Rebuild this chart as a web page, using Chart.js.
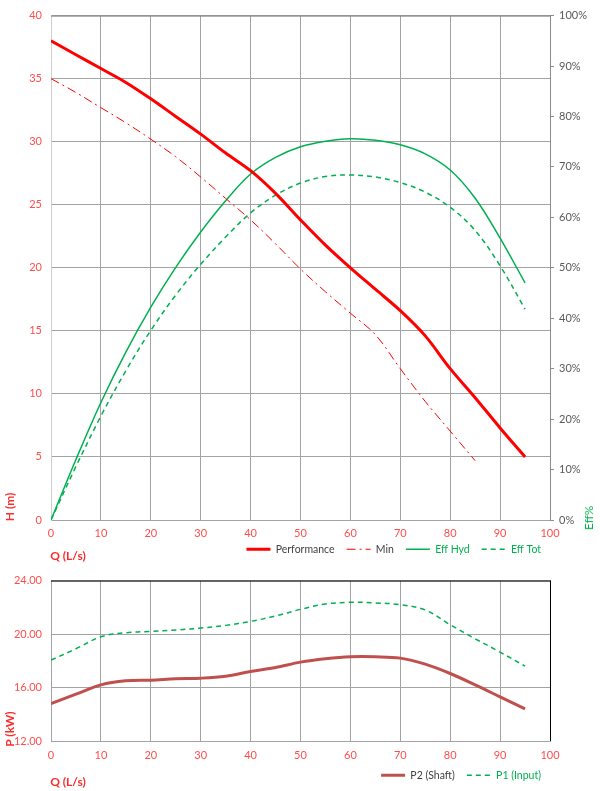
<!DOCTYPE html>
<html>
<head>
<meta charset="utf-8">
<script src="https://cdn.jsdelivr.net/npm/chart.js"></script>
<style>
  body { margin: 0; background: #fff; }
  #wrap { position: relative; width: 600px; height: 791px; font-family: Lato, "Open Sans", sans-serif; }
  canvas { position: absolute; left: 0; }
  .ttl { position: absolute; white-space: nowrap; font-size: 12px; line-height: 1; transform: translate(-50%, -50%); }
  .red { color: #ff2b2b; font-weight: bold; }
  .green { color: #00b050; }
  .rot { transform: translate(-50%, -50%) rotate(-90deg); }
</style>
</head>
<body>
<div id="wrap">
  <canvas id="headChart" width="600" height="565" style="top:0"></canvas>
  <canvas id="powerChart" width="600" height="226" style="top:565px"></canvas>
  <div class="ttl red rot" style="left:10px; top:507px">H (m)</div>
  <div class="ttl green rot" style="left:589px; top:518px">Eff%</div>
  <div class="ttl red" style="left:68px; top:556px">Q (L/s)</div>
  <div class="ttl red rot" style="left:10px; top:729px">P (kW)</div>
  <div class="ttl red" style="left:68px; top:782px">Q (L/s)</div>
</div>
<script>
// flow points (L/s)
const flow = [0, 5, 10, 15, 20, 25, 30, 35, 40, 45, 50, 55, 60, 65, 70, 75, 80, 85, 90, 95];

// head curves (m)
const headPerf = [38, 36.9, 35.8, 34.7, 33.4, 32.0, 30.6, 29.1, 27.7, 25.9, 23.8, 21.8, 20.0, 18.3, 16.6, 14.6, 12.0, 9.7, 7.3, 5.0];
const headMin  = [35, 33.9, 32.7, 31.5, 30.2, 28.8, 27.2, 25.5, 23.8, 21.9, 19.9, 18.1, 16.4, 14.7, 12.0, 9.4, 7.05, 4.7, null, null];

// efficiency (%)
const effHyd = [0, 12.0, 23.3, 33.3, 42.2, 50.1, 57.1, 63.3, 68.6, 71.9, 74.0, 75.1, 75.6, 75.3, 74.4, 72.6, 69.4, 63.8, 55.9, 47.0];
const effTot = [0, 10.6, 20.6, 29.6, 37.6, 44.6, 50.7, 56.1, 60.9, 64.4, 66.8, 68.1, 68.4, 68.0, 66.9, 65.0, 62.0, 57.4, 50.4, 41.8];

// power (kW)
const powerShaft = [14.8, 15.5, 16.2, 16.5, 16.55, 16.65, 16.7, 16.85, 17.2, 17.5, 17.9, 18.15, 18.3, 18.3, 18.2, 17.75, 17.05, 16.2, 15.3, 14.4];
const powerInput = [18.05, 18.9, 19.8, 20.1, 20.2, 20.3, 20.45, 20.65, 20.95, 21.35, 21.85, 22.25, 22.38, 22.33, 22.2, 21.8, 20.7, 19.65, 18.65, 17.6];

const qTicks = [0, 10, 20, 30, 40, 50, 60, 70, 80, 90, 100];

const RED = "#ff0000";
const GREEN = "#00b050";
const TICK_RED = "#ff4d4d";
const GRID = "#a3a3a3";
const FONT = { family: "Lato, 'Open Sans', sans-serif", size: 11 };
const LEGEND_FONT = { family: "Lato, 'Open Sans', sans-serif", size: 10.5 };

const pts = (vals) => flow.map((q, i) => ({ x: q, y: vals[i] })).filter(p => p.y !== null);

// extra frame lines drawn over the plot edge
const frameLines = {
  id: "frameLines",
  afterDatasetsDraw(chart, args, opts) {
    const { ctx, chartArea: a } = chart;
    ctx.save();
    ctx.lineWidth = 1;
    ctx.strokeStyle = opts.color;
    ctx.beginPath();
    ctx.moveTo(a.left, a.top + 0.5);
    ctx.lineTo(a.right + 1, a.top + 0.5);
    if (opts.right) {
      ctx.moveTo(a.right + 0.5, a.top);
      ctx.lineTo(a.right + 0.5, a.bottom);
    }
    ctx.stroke();
    ctx.restore();
  }
};

// the legend sits on the same band as the axis title, so move it up after layout
const legendNudge = {
  id: "legendNudge",
  afterLayout(chart, args, opts) {
    const lg = chart.legend;
    if (!lg) return;
    lg.top = opts.top;
    lg.bottom = opts.top + 35;
    lg.left += opts.dx;
    lg.right += opts.dx;
  }
};

function legendOpts(textColors) {
  return {
    position: "bottom",
    align: "end",
    fullSize: false,
    maxHeight: 20,
    labels: {
      usePointStyle: true,
      pointStyle: "line",
      pointStyleWidth: 24,
      padding: 12,
      font: LEGEND_FONT,
      color: "#404040",
      generateLabels(chart) {
        return chart.data.datasets.map((ds, i) => ({
          text: ds.label,
          datasetIndex: i,
          fontColor: textColors[i],
          strokeStyle: ds.borderColor,
          fillStyle: ds.borderColor,
          lineWidth: ds.borderWidth,
          lineDash: ds.borderDash || [],
          lineCap: "butt",
          pointStyle: "line",
          hidden: false
        }));
      }
    }
  };
}

function qAxis(pad, height) {
  return {
    type: "linear",
    min: 0,
    max: 100,
    afterBuildTicks: (s) => { s.ticks = qTicks.map(v => ({ value: v })); },
    ticks: { color: TICK_RED, font: FONT, padding: pad, maxRotation: 0 },
    grid: { color: GRID, drawTicks: false },
    border: { color: GRID },
    afterFit: (s) => { s.height = height; }
  };
}

const lineDefaults = { pointRadius: 0, pointHoverRadius: 0, tension: 0.35, fill: false };

new Chart(document.getElementById("headChart"), {
  type: "line",
  data: {
    datasets: [
      { ...lineDefaults, label: "Performance", data: pts(headPerf), borderColor: RED, borderWidth: 3, yAxisID: "y" },
      { ...lineDefaults, label: "Min", data: pts(headMin), borderColor: RED, borderWidth: 1, borderDash: [9, 4, 2, 4], yAxisID: "y" },
      { ...lineDefaults, label: "Eff Hyd", data: pts(effHyd), borderColor: GREEN, borderWidth: 1.5, yAxisID: "y2" },
      { ...lineDefaults, label: "Eff Tot", data: pts(effTot), borderColor: GREEN, borderWidth: 1.5, borderDash: [5, 4], yAxisID: "y2" }
    ]
  },
  options: {
    responsive: false,
    animation: false,
    layout: { padding: { top: 10, left: 0, right: 0, bottom: 0 } },
    scales: {
      x: qAxis(7, 25),
      y: {
        position: "left",
        min: 0,
        max: 40,
        ticks: { stepSize: 5, color: TICK_RED, font: FONT, padding: 9 },
        grid: { color: GRID, drawTicks: false },
        border: { color: "#cfcfcf" },
        afterFit: (s) => { s.width = 51; }
      },
      y2: {
        position: "right",
        min: 0,
        max: 100,
        ticks: { stepSize: 10, color: "#595959", font: FONT, padding: 5, callback: v => v + "%" },
        grid: { drawOnChartArea: false, drawTicks: true, tickLength: 4, color: "#8c8c8c" },
        border: { color: "#8c8c8c" },
        afterFit: (s) => { s.width = 50; }
      }
    },
    plugins: {
      legend: legendOpts(["#404040", "#404040", GREEN, GREEN]),
      tooltip: { enabled: false },
      frameLines: { color: "#7f7f7f", right: false },
      legendNudge: { top: 532, dx: 3 }
    }
  },
  plugins: [frameLines, legendNudge]
});

new Chart(document.getElementById("powerChart"), {
  type: "line",
  data: {
    datasets: [
      { ...lineDefaults, label: "P2 (Shaft)", data: pts(powerShaft), borderColor: "#c0504d", borderWidth: 3 },
      { ...lineDefaults, label: "P1 (Input)", data: pts(powerInput), borderColor: GREEN, borderWidth: 1.5, borderDash: [5, 4] }
    ]
  },
  options: {
    responsive: false,
    animation: false,
    layout: { padding: { top: 9, left: 0, right: 50, bottom: 0 } },
    scales: {
      x: qAxis(8, 30),
      y: {
        min: 12,
        max: 24,
        ticks: { stepSize: 4, color: TICK_RED, font: FONT, padding: 9, callback: v => v.toFixed(2) },
        grid: { color: GRID, drawTicks: false },
        border: { color: GRID },
        afterFit: (s) => { s.width = 51; }
      }
    },
    plugins: {
      legend: legendOpts(["#404040", GREEN]),
      tooltip: { enabled: false },
      frameLines: { color: "#000000", right: true },
      legendNudge: { top: 193, dx: 3 }
    }
  },
  plugins: [frameLines, legendNudge]
});
</script>
</body>
</html>
